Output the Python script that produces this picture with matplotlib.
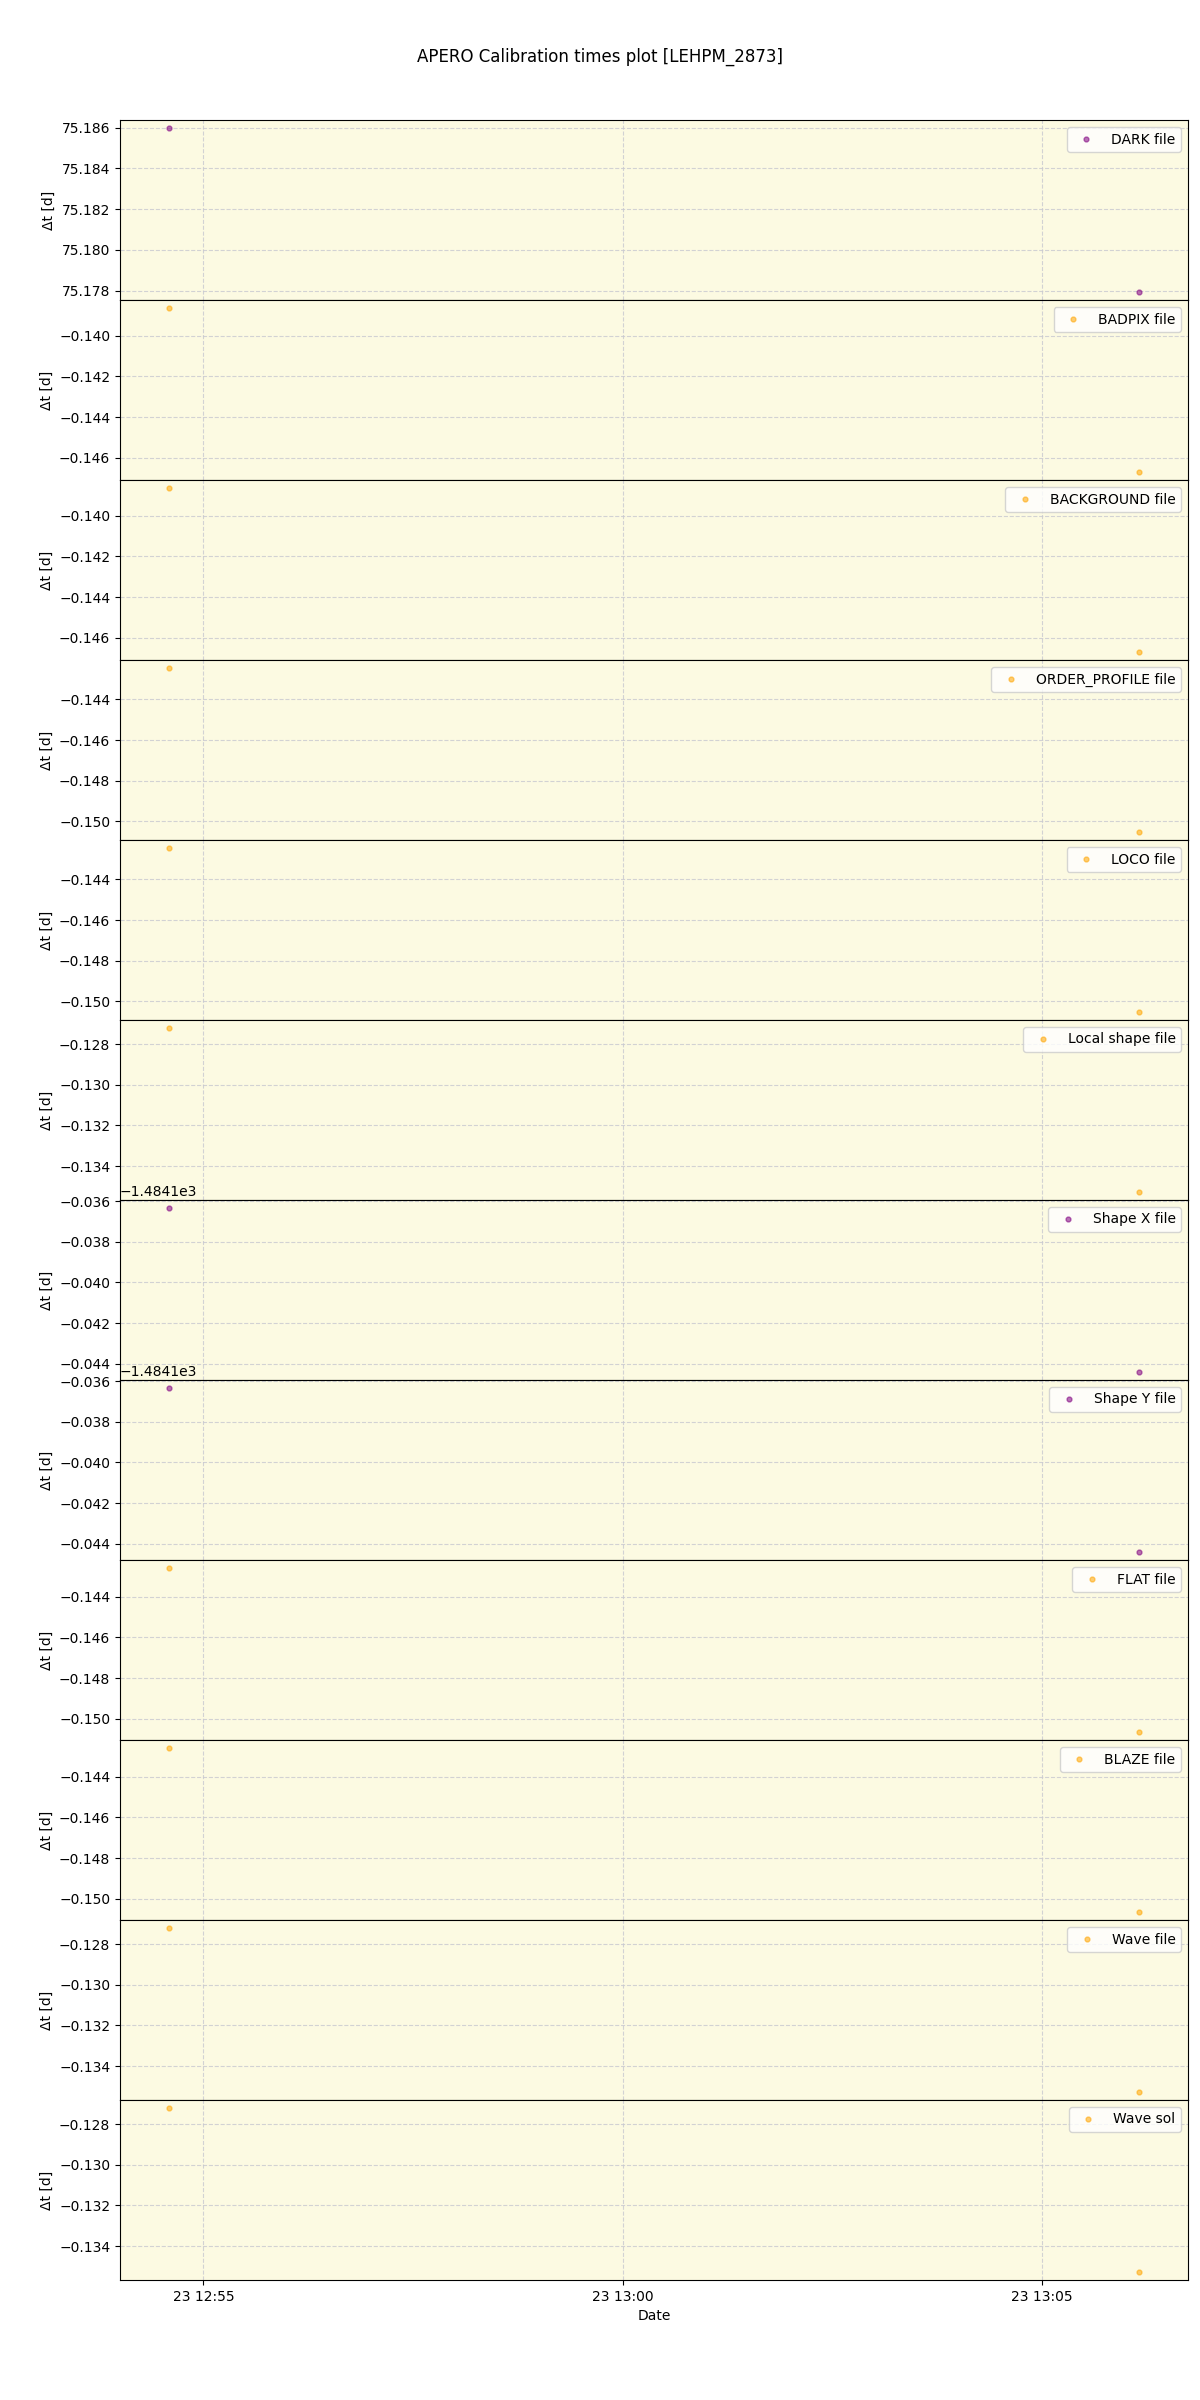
import datetime as dt

import matplotlib
matplotlib.use('Agg')
import matplotlib.pyplot as plt
import matplotlib.dates as mdates

# observation times (two calibration epochs)
times = [dt.datetime(2023, 8, 23, 12, 54, 35), dt.datetime(2023, 8, 23, 13, 6, 10)]

labels = ['DARK file', 'BADPIX file', 'BACKGROUND file', 'ORDER_PROFILE file',
          'LOCO file', 'Local shape file', 'Shape X file', 'Shape Y file',
          'FLAT file', 'BLAZE file', 'Wave file', 'Wave sol']
colors = ['purple', 'orange', 'orange', 'orange', 'orange', 'orange',
          'purple', 'purple', 'orange', 'orange', 'orange', 'orange']

dark_dt = [75.18598, 75.17794]
badpix_dt = [-0.13865, -0.14669]
background_dt = [-0.13865, -0.14669]
order_profile_dt = [-0.14247, -0.15051]
loco_dt = [-0.14247, -0.15051]
local_shape_dt = [-0.12722, -0.13526]
shape_x_dt = [-1484.13635, -1484.14439]
shape_y_dt = [-1484.13635, -1484.14439]
flat_dt = [-0.14260, -0.15064]
blaze_dt = [-0.14260, -0.15064]
wave_file_dt = [-0.12722, -0.13526]
wave_sol_dt = [-0.12722, -0.13526]

series = [dark_dt, badpix_dt, background_dt, order_profile_dt, loco_dt,
          local_shape_dt, shape_x_dt, shape_y_dt, flat_dt, blaze_dt,
          wave_file_dt, wave_sol_dt]

fig, axes = plt.subplots(len(series), 1, figsize=(12, 24), sharex=True)
fig.subplots_adjust(left=0.1, right=0.99, top=0.95, bottom=0.05, hspace=0)
fig.suptitle('APERO Calibration times plot [LEHPM_2873]')

for ax, vals, label, color in zip(axes, series, labels, colors):
    ax.set_facecolor('#fcfae2')
    ax.plot(times, vals, ls='None', marker='o', ms=3.5, color=color,
            alpha=0.55, label=label)
    ax.set_ylabel('Δt [d]')
    ax.grid(True, ls='--', color='#c8c8d0', alpha=0.8)
    ax.legend(loc='upper right')

axes[-1].xaxis.set_major_locator(mdates.MinuteLocator(byminute=range(0, 60, 5)))
axes[-1].xaxis.set_major_formatter(mdates.DateFormatter('%d %H:%M'))
axes[-1].set_xlabel('Date')

plt.savefig('out.png', dpi=100, facecolor='white')
plt.close()
